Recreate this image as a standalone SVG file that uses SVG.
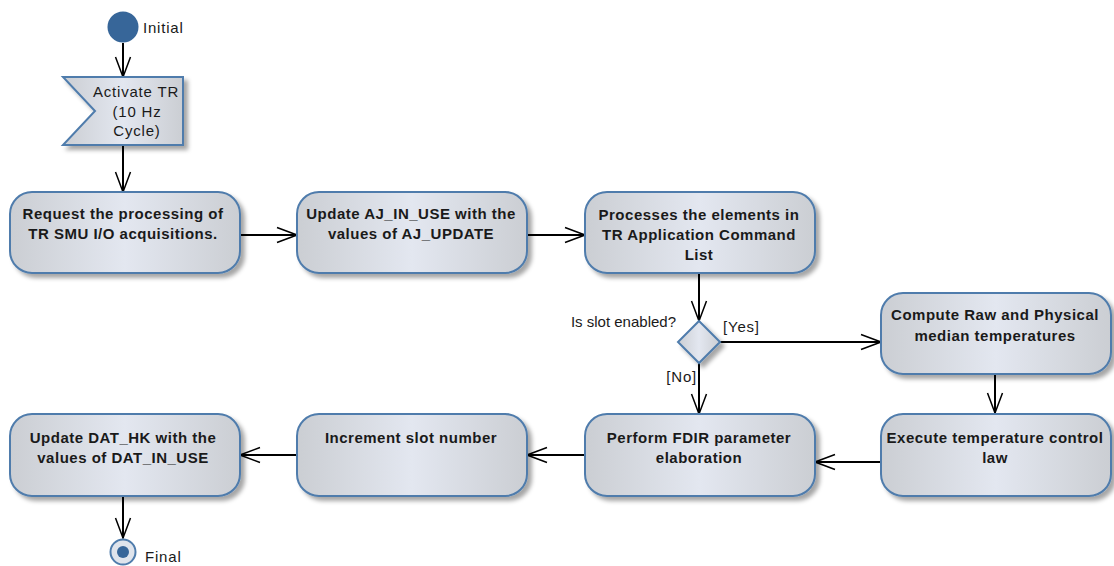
<svg xmlns="http://www.w3.org/2000/svg" width="1114" height="566" viewBox="0 0 1114 566">
<defs>
<linearGradient id="g" x1="0" y1="0" x2="1" y2="0">
<stop offset="0" stop-color="#cbced3"/>
<stop offset="0.5" stop-color="#e3e7f0"/>
<stop offset="1" stop-color="#cbced3"/>
</linearGradient>
<filter id="sh" x="-10%" y="-10%" width="130%" height="130%">
<feDropShadow dx="4" dy="4" stdDeviation="2" flood-color="#000" flood-opacity="0.35"/>
</filter>
<marker id="a" viewBox="0 0 22 18" refX="21" refY="9" markerWidth="22" markerHeight="18" markerUnits="userSpaceOnUse" orient="auto">
<path d="M1,1.5 L21,9 L1,16.5" fill="none" stroke="#000" stroke-width="1.5"/>
</marker>
</defs>
<style>
.box{fill:url(#g);stroke:#4f7cac;stroke-width:2;filter:url(#sh)}
.t{font-family:"Liberation Sans",Arial,sans-serif;font-size:15px;font-weight:bold;fill:#1a1a1a;text-anchor:middle;letter-spacing:0.5px}
.l{font-family:"Liberation Sans",Arial,sans-serif;font-size:15px;fill:#1a1a1a;letter-spacing:0.8px}
.c{stroke:#000;stroke-width:2;fill:none;marker-end:url(#a)}
</style>
<g id="connectors">
<line class="c" x1="123" y1="43" x2="123" y2="77"/>
<line class="c" x1="123" y1="145" x2="123" y2="192"/>
<line class="c" x1="240" y1="235" x2="297" y2="235"/>
<line class="c" x1="527" y1="235" x2="585" y2="235"/>
<line class="c" x1="699" y1="273" x2="699" y2="321"/>
<line class="c" x1="719" y1="342" x2="881" y2="342"/>
<line class="c" x1="699" y1="363" x2="699" y2="414"/>
<line class="c" x1="995" y1="374" x2="995" y2="413"/>
<line class="c" x1="881" y1="462" x2="815" y2="462"/>
<line class="c" x1="585" y1="455" x2="527" y2="455"/>
<line class="c" x1="297" y1="455" x2="240" y2="455"/>
<line class="c" x1="123" y1="496" x2="123" y2="538"/>
</g>
<g id="initial">
<circle cx="123" cy="27" r="15.5" fill="#376699"/>
<text class="l" x="143" y="33">Initial</text>
</g>
<g id="activate">
<polygon class="box" points="63,77 183,77 183,145 63,145 95,111"/>
<text class="l" x="136" y="97" text-anchor="middle">Activate TR</text>
<text class="l" x="137" y="117" text-anchor="middle">(10 Hz</text>
<text class="l" x="137" y="136" text-anchor="middle">Cycle)</text>
</g>
<g id="request">
<rect class="box" x="10" y="192" width="230" height="81" rx="22"/>
<text class="t" x="123" y="219">Request the processing of</text>
<text class="t" x="123" y="239">TR SMU I/O acquisitions.</text>
</g>
<g id="update-aj">
<rect class="box" x="297" y="192" width="230" height="81" rx="22"/>
<text class="t" x="411" y="219">Update AJ_IN_USE with the</text>
<text class="t" x="411" y="239">values of AJ_UPDATE</text>
</g>
<g id="processes">
<rect class="box" x="585" y="192" width="230" height="81" rx="22"/>
<text class="t" x="699" y="220">Processes the elements in</text>
<text class="t" x="699" y="240">TR Application Command</text>
<text class="t" x="699" y="260">List</text>
</g>
<g id="decision">
<polygon points="699,321 720,342 699,363 678,342" fill="url(#g)" stroke="#4f7cac" stroke-width="2" filter="url(#sh)"/>
<text class="l" x="676" y="327" text-anchor="end" style="letter-spacing:0">Is slot enabled?</text>
<text class="l" x="723" y="332">[Yes]</text>
<text class="l" x="697" y="382" text-anchor="end">[No]</text>
</g>
<g id="compute">
<rect class="box" x="881" y="293" width="230" height="81" rx="22"/>
<text class="t" x="995" y="320">Compute Raw and Physical</text>
<text class="t" x="995" y="341">median temperatures</text>
</g>
<g id="execute">
<rect class="box" x="881" y="414" width="230" height="82" rx="22"/>
<text class="t" x="995" y="443">Execute temperature control</text>
<text class="t" x="995" y="463">law</text>
</g>
<g id="perform">
<rect class="box" x="585" y="414" width="230" height="82" rx="22"/>
<text class="t" x="699" y="443">Perform FDIR parameter</text>
<text class="t" x="699" y="463">elaboration</text>
</g>
<g id="increment">
<rect class="box" x="297" y="414" width="230" height="82" rx="22"/>
<text class="t" x="411" y="443">Increment slot number</text>
</g>
<g id="update-dat">
<rect class="box" x="10" y="414" width="230" height="82" rx="22"/>
<text class="t" x="123" y="443">Update DAT_HK with the</text>
<text class="t" x="123" y="463">values of DAT_IN_USE</text>
</g>
<g id="final">
<circle cx="123" cy="552" r="12.5" fill="#dfe4ec" stroke="#4f7cac" stroke-width="2"/>
<circle cx="123" cy="552" r="6" fill="#376699"/>
<text class="l" x="145" y="562">Final</text>
</g>
</svg>
